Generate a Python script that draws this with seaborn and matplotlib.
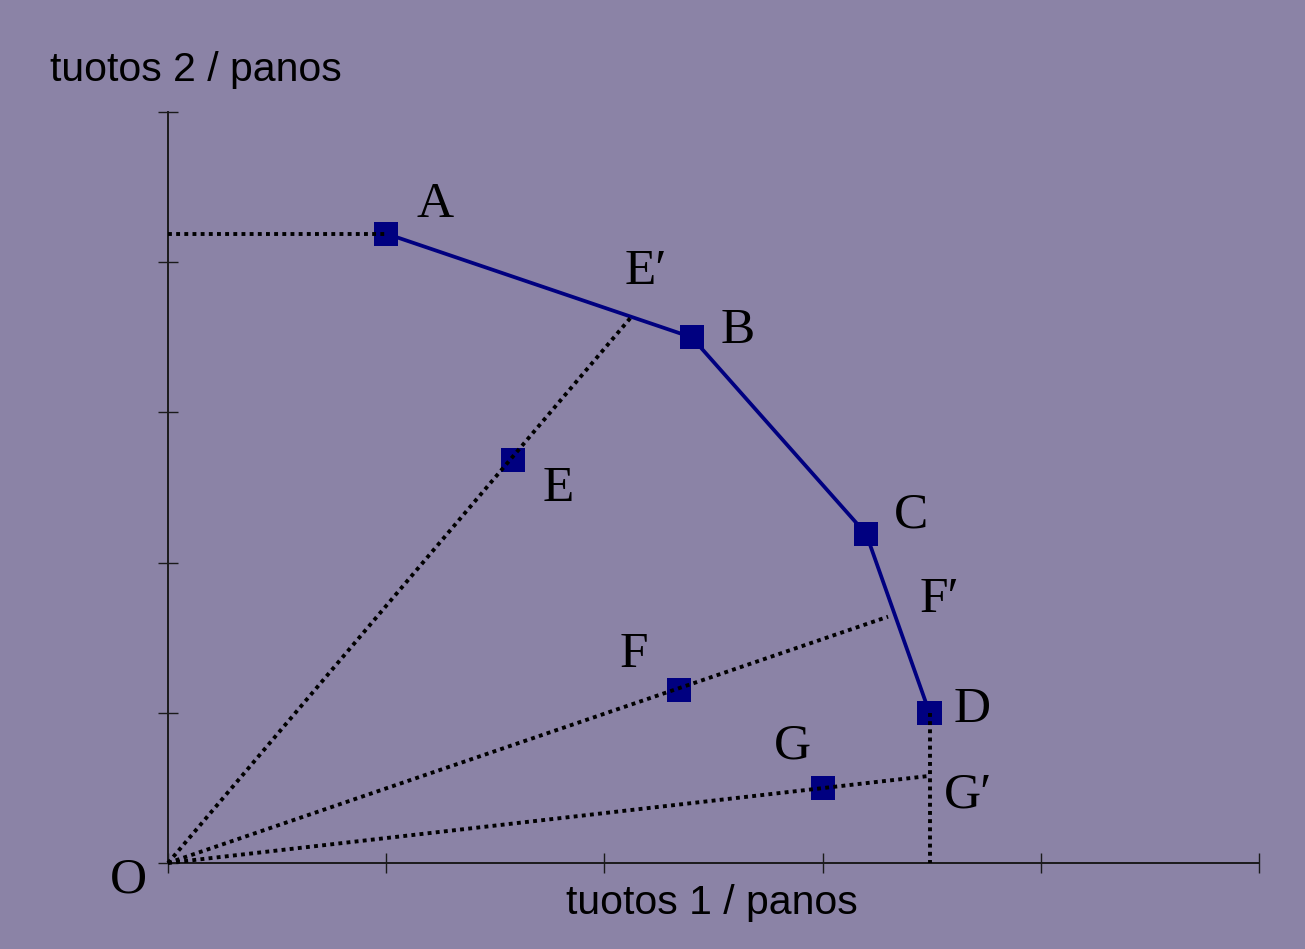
import matplotlib
matplotlib.use("Agg")
import matplotlib.pyplot as plt
import pandas as pd
import seaborn as sns

# points (x = tuotos 1, y = tuotos 2)
frontier_names = ["A", "B", "C", "D"]
frontier_x = [1.0, 2.40, 3.20, 3.49]
frontier_y = [4.19, 3.50, 2.19, 1.0]

inner_names = ["E", "F", "G"]
inner_x = [1.58, 2.34, 3.0]
inner_y = [2.68, 1.15, 0.5]

proj_names = ["E\u2032", "F\u2032", "G\u2032"]
proj_x = [2.12, 3.30, 3.49]
proj_y = [3.63, 1.64, 0.58]

x_ticks = [0, 1, 2, 3, 4, 5]
y_ticks = [0, 1, 2, 3, 4, 5]

BG = "#8b83a6"
NAVY = "#000080"

sns.set_theme(style="white", rc={"figure.facecolor": BG, "axes.facecolor": BG})

fig = plt.figure(figsize=(13.05, 9.49), dpi=100)
ax = fig.add_axes([168 / 1305, 86 / 949, 1091 / 1305, 751 / 949])

dot = dict(color="black", linestyle=(0, (1, 1.1)), linewidth=2.8,
           clip_on=False, zorder=6)

# dotted guide lines: A to y axis, rays from the origin, D down to x axis
ax.plot([0, frontier_x[0]], [frontier_y[0], frontier_y[0]], **dot)
for px, py in zip(proj_x, proj_y):
    ax.plot([0, px], [0, py], **dot)
ax.plot([frontier_x[3], frontier_x[3]], [frontier_y[3], 0], **dot)

frontier = pd.DataFrame({"x": frontier_x, "y": frontier_y})
sns.lineplot(data=frontier, x="x", y="y", sort=False, color=NAVY,
             linewidth=2.7, ax=ax)

pts = pd.DataFrame({"x": frontier_x + inner_x, "y": frontier_y + inner_y})
sns.scatterplot(data=pts, x="x", y="y", marker="s", s=300, color=NAVY,
                edgecolor="none", zorder=5, ax=ax)

# label offsets in pixels
offsets = {
    "A": (49, 29), "B": (46, 7), "C": (45, 19), "D": (43, 3),
    "E": (45, -28), "F": (-45, 36), "G": (-30, 42),
    "E\u2032": (15, 46), "F\u2032": (51, 17), "G\u2032": (39, -19),
}
serif = dict(family="Liberation Serif", fontsize=37, color="black",
             ha="center", va="center")
for name, x, y in zip(frontier_names + inner_names + proj_names,
                      frontier_x + inner_x + proj_x,
                      frontier_y + inner_y + proj_y):
    dx, dy = offsets[name]
    ax.annotate(name, (x, y), xytext=(dx * 0.72, dy * 0.72),
                textcoords="offset points", **serif)
ax.annotate("O", (0, 0), xytext=(-40 * 0.72, -17 * 0.72),
            textcoords="offset points", annotation_clip=False, **serif)

ax.set_xlim(0, 5)
ax.set_ylim(0, 5)
ax.set_xticks(x_ticks)
ax.set_yticks(y_ticks)
ax.set_xticklabels([])
ax.set_yticklabels([])
ax.set_xlabel("")
ax.set_ylabel("")
ax.tick_params(direction="inout", length=14.5, width=1.0, color="#1a1a1a",
               bottom=True, left=True)
sns.despine(ax=ax)
for side in ["left", "bottom"]:
    ax.spines[side].set_color("#1a1a1a")
    ax.spines[side].set_linewidth(1.4)

sans = dict(family="Liberation Sans", fontsize=29.5, color="black",
            ha="center", va="center")
fig.text(196 / 1305, 1 - 70 / 949, "tuotos 2 / panos", **sans)
fig.text(712 / 1305, 1 - 903 / 949, "tuotos 1 / panos", **sans)

fig.savefig("out.png", dpi=100, facecolor=BG)
